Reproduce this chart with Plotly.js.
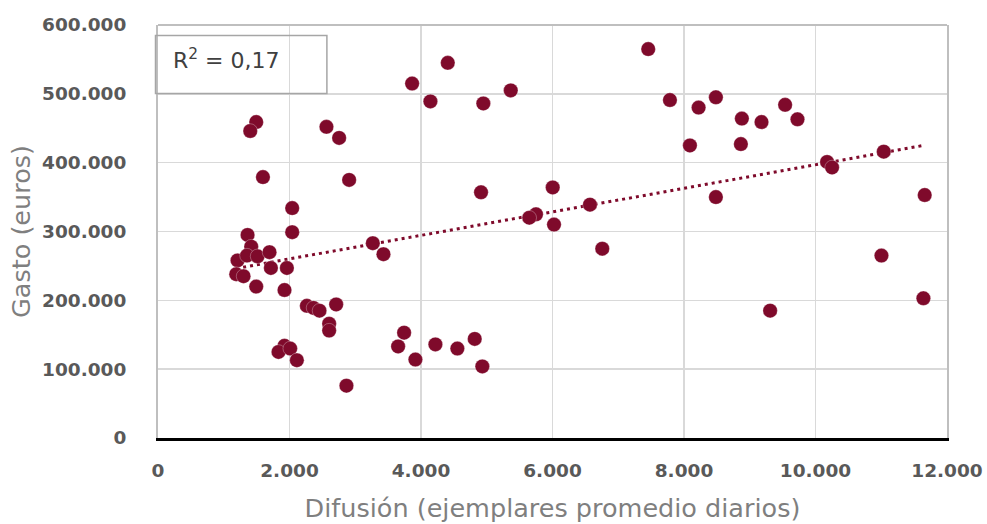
<!DOCTYPE html>
<html>
<head>
<meta charset="utf-8">
<script src="https://cdn.plot.ly/plotly-3.0.1.min.js"></script>
<style>html,body{margin:0;padding:0;background:#fff;}#chart{width:987px;height:524px;}</style>
</head>
<body>
<div id="chart"></div>
<script>
// Difusión (ejemplares promedio diarios)
const difusion = [7456,5365,4948,7786,8222,8485,8880,9179,9538,9726,8090,8865,10176,10252,11038,11661,
  4913,6003,8485,6570,5749,5647,6023,6757,11003,9310,11641,4817,4553,4933,
  4407,3865,4143,1494,1403,2562,2755,1596,2907,2041,2041,1362,3267,3429,1418,1210,1353,1514,1696,1717,1960,
  1190,1301,1494,1924,2264,2365,2456,2710,2603,2603,3743,3652,4219,3915,1924,1833,2011,2112,2866];
// Gasto (euros)
const gasto = [565000,505000,486000,491000,480000,495000,464000,459000,484000,463000,425000,427000,401000,393000,416000,353000,
  357000,364000,350000,339000,325000,320000,310000,275000,265000,185000,203000,144000,130000,104000,
  545000,515000,489000,459000,446000,452000,436000,379000,375000,334000,299000,295000,283000,267000,278000,258000,265000,264000,270000,247000,247000,
  238000,235000,220000,215000,192000,189000,185000,194000,166000,156000,153000,133000,136000,114000,134000,125000,130000,113000,76000];
const xTickVals = [0,2000,4000,6000,8000,10000,12000];
const yTickVals = [0,100000,200000,300000,400000,500000,600000];
const r2Label = "R<sup>2</sup> = 0,17";

// linear least-squares trend line over the data range
const n = difusion.length;
let sx=0, sy=0, sxx=0, sxy=0;
for (let i=0;i<n;i++){ sx+=difusion[i]; sy+=gasto[i]; sxx+=difusion[i]*difusion[i]; sxy+=difusion[i]*gasto[i]; }
const slope = (n*sxy - sx*sy)/(n*sxx - sx*sx);
const icpt = (sy - slope*sx)/n;
const xmin = Math.min(...difusion), xmax = Math.max(...difusion);
const trendX = [xmin, xmax];
const trendY = trendX.map(v => icpt + slope*v);

const col = '#7f0a2b';
const data = [
  {x: trendX, y: trendY, type:'scatter', mode:'lines', line:{color:col, width:3, dash:'3px,4px'}, hoverinfo:'skip', showlegend:false},
  {x: difusion, y: gasto, type:'scatter', mode:'markers', marker:{color:col, size:14.5, line:{color:'rgba(255,255,255,0.5)', width:0.6}}, showlegend:false}
];

const L = 157.5, R = 40, T = 25, B = 86;
const pw = 987 - L - R, ph = 524 - T - B;
const px = v => (v - L)/pw;      // pixel -> paper x
const py = v => (524 - B - v)/ph; // pixel -> paper y

const layout = {
  width: 987, height: 524,
  margin: {l:L, r:R, t:T, b:B, pad:0},
  paper_bgcolor:'#fff', plot_bgcolor:'#fff',
  separators: ',.',
  font: {family:'DejaVu Sans, sans-serif', color:'#595959'},
  xaxis: {
    range:[0,12000], tickvals:xTickVals, tickformat:',d',
    showgrid:true, gridcolor:'#d9d9d9', gridwidth:1.5,
    zeroline:false, showline:true, linecolor:'#000', linewidth:2.5,
    ticks:'', ticklabelstandoff:14,
    tickfont:{family:'DejaVu Sans, sans-serif', size:18.5, color:'#595959', weight:'bold'},
    title:{text:'Difusión (ejemplares promedio diarios)', font:{family:'DejaVu Sans, sans-serif', size:25.5, color:'#7f7f7f'}, standoff:20}
  },
  yaxis: {
    range:[0,600000], tickvals:yTickVals, tickformat:',d',
    showgrid:true, gridcolor:'#d9d9d9', gridwidth:1.5,
    zeroline:false, showline:true, linecolor:'#bfbfbf', linewidth:2, mirror:true,
    ticks:'', ticklabelstandoff:26,
    tickfont:{family:'DejaVu Sans, sans-serif', size:18.5, color:'#595959', weight:'bold'},
    title:{text:'Gasto (euros)', font:{family:'DejaVu Sans, sans-serif', size:25.5, color:'#7f7f7f'}, standoff:4}
  },
  shapes: [
    {type:'line', xref:'paper', yref:'paper', x0:0, x1:1, y0:1, y1:1, line:{color:'#bfbfbf', width:2}},
    {type:'rect', xref:'paper', yref:'paper', x0:px(155), x1:px(326.5), y0:py(35.5), y1:py(93.5), line:{color:'#a6a6a6', width:1.5}, fillcolor:'rgba(0,0,0,0)'}
  ],
  annotations: [
    {text:r2Label, xref:'paper', yref:'paper', x:px(171), y:py(59.5), xanchor:'left', yanchor:'middle', showarrow:false,
     font:{family:'DejaVu Sans, sans-serif', size:22, color:'#404040'}}
  ]
};

Plotly.newPlot('chart', data, layout, {displayModeBar:false, staticPlot:true});
</script>
</body>
</html>
